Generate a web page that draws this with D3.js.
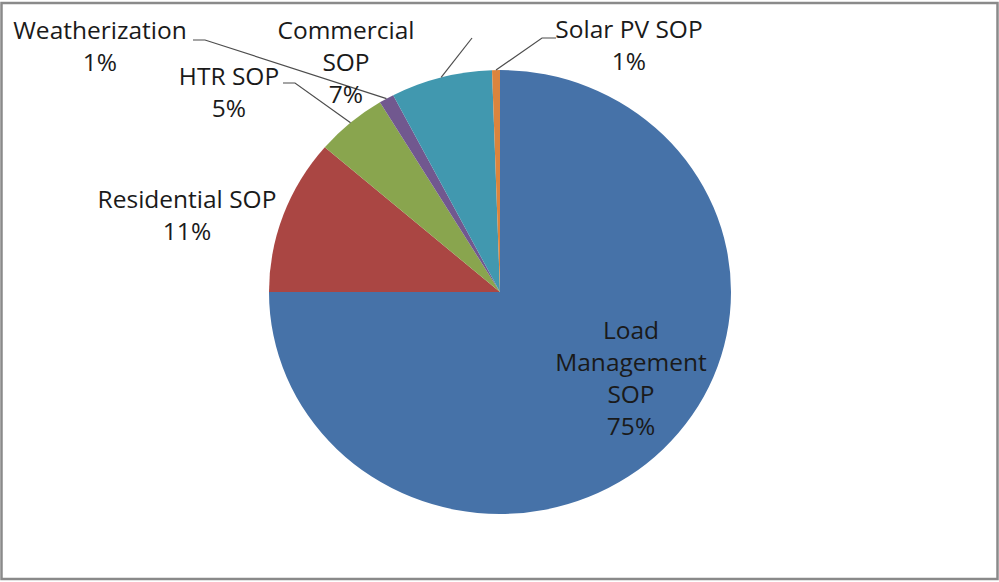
<!DOCTYPE html>
<html>
<head>
<meta charset="utf-8">
<script src="https://cdn.jsdelivr.net/npm/d3@7"></script>
<style>
  body { margin: 0; background: #fff; }
  svg text { font-family: "Open Sans", Lato, sans-serif; fill: #1a1a1a; }
</style>
</head>
<body>
<div id="chart"></div>
<script>
// slice data, clockwise from 12 o'clock
const names = ["Load Management SOP", "Residential SOP", "HTR SOP", "Weatherization", "Commercial SOP", "Solar PV SOP"];
const shares = [75.0, 11.3, 5.0, 1.05, 7.1, 0.55];
const pctLabels = ["75%", "11%", "5%", "1%", "7%", "1%"];
const colors = ["#4672a8", "#aa4643", "#89a54e", "#71588f", "#4198af", "#db843d"];

// how each label is broken into lines
const labelLines = [
    ["Load", "Management", "SOP"],
    ["Residential SOP"],
    ["HTR SOP"],
    ["Weatherization"],
    ["Commercial", "SOP"],
    ["Solar PV SOP"]
];

const width = 999, height = 582;
const cx = 500, cy = 292, rx = 231, ry = 222;

// label layout: centre x, first baseline, leader elbow (null = no leader)
const layout = [
    { x: 631, y: 339, leader: null },
    { x: 187, y: 208, leader: null },
    { x: 229, y: 85, leader: [[283, 83], [295, 83]] },
    { x: 100, y: 39, leader: [[193, 40], [205, 40]] },
    { x: 346, y: 39, leader: [[472, 38]] },
    { x: 629, y: 38, leader: [[556, 38], [542, 38]] }
];

const svg = d3.select("#chart").append("svg")
    .attr("width", width)
    .attr("height", height);

svg.append("rect")
    .attr("x", 1.5).attr("y", 3)
    .attr("width", 996).attr("height", 576)
    .attr("fill", "#fff")
    .attr("stroke", "#8a8a8a")
    .attr("stroke-width", 2.5);

const pie = d3.pie().sort(null).value(d => d);
const arcs = pie(shares);

const arc = d3.arc().innerRadius(0).outerRadius(ry);

const g = svg.append("g")
    .attr("transform", `translate(${cx},${cy}) scale(${rx / ry},1)`);

g.selectAll("path")
    .data(arcs)
    .enter().append("path")
    .attr("d", arc)
    .attr("fill", (d, i) => colors[i]);

// point on the rim at the middle of a slice
function rimPoint(d) {
    const a = (d.startAngle + d.endAngle) / 2;
    return [cx + rx * Math.sin(a), cy - ry * Math.cos(a)];
}

const lineGen = d3.line();

arcs.forEach(function (d, i) {
    const lay = layout[i];
    if (lay.leader) {
        const pts = lay.leader.concat([rimPoint(d)]);
        svg.append("path")
            .attr("d", lineGen(pts))
            .attr("fill", "none")
            .attr("stroke", "#4d4d4d")
            .attr("stroke-width", 1.2);
    }
    const lines = labelLines[i].concat([pctLabels[i]]);
    const t = svg.append("text")
        .attr("text-anchor", "middle")
        .attr("font-size", "24.5px");
    lines.forEach(function (s, k) {
        t.append("tspan")
            .attr("x", lay.x)
            .attr("y", lay.y + k * 32)
            .text(s);
    });
});
</script>
</body>
</html>
